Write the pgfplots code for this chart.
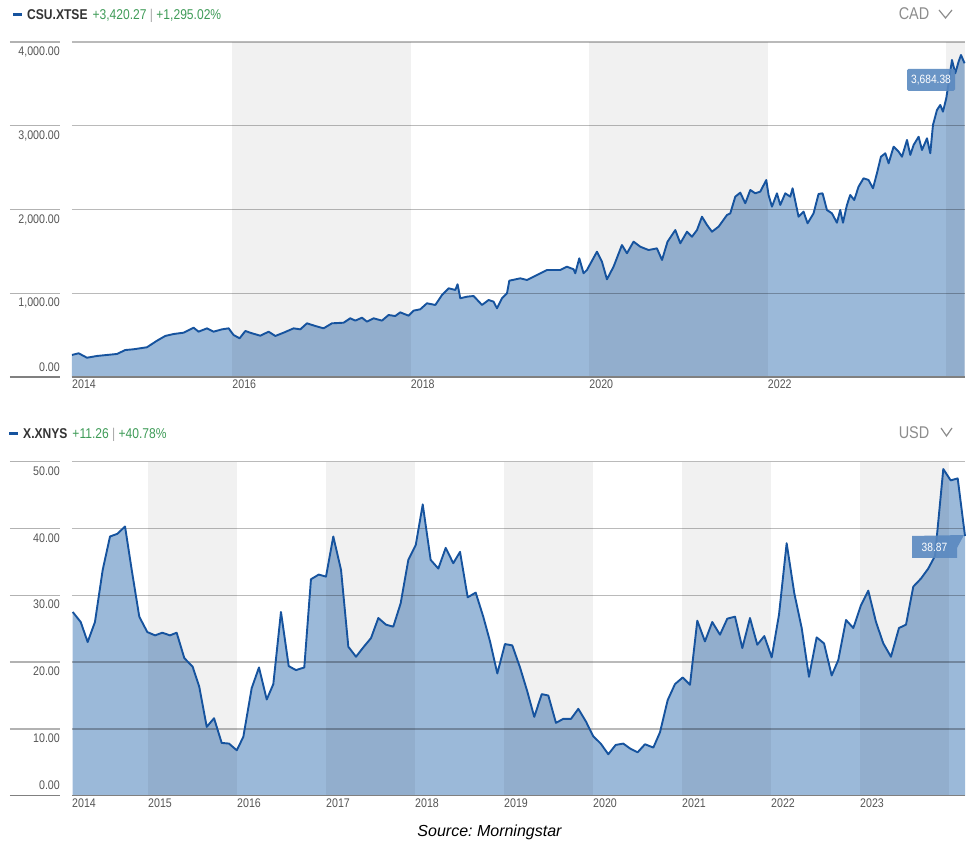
\documentclass[border=0pt]{standalone}
\usepackage{fontspec}
\setmainfont{Liberation Sans}
\newfontfamily\cond{Liberation Sans}[FakeStretch=0.85]
\usepackage{pgfplots}
\pgfplotsset{compat=1.18}
\usepackage{pgfplotstable}

\definecolor{linec}{HTML}{16539E}
\definecolor{fillc}{HTML}{9BB9D9}
\definecolor{labc}{HTML}{555555}
\definecolor{grn}{HTML}{3E9B57}
\definecolor{tagc}{HTML}{5A89C0}
\definecolor{hdr}{HTML}{333333}

% CSU.XTSE, CAD
\pgfplotstableread{
t v
2014.204 263
2014.278 283
2014.372 230
2014.484 251
2014.596 263
2014.708 275
2014.801 322
2014.894 331
2015.044 355
2015.156 433
2015.249 490
2015.342 513
2015.454 529
2015.566 589
2015.622 541
2015.717 581
2015.790 541
2015.885 569
2015.959 581
2016.015 501
2016.082 462
2016.146 549
2016.221 522
2016.314 493
2016.407 541
2016.482 490
2016.575 529
2016.687 581
2016.762 569
2016.837 641
2016.930 609
2017.023 581
2017.117 641
2017.247 648
2017.322 701
2017.378 673
2017.453 708
2017.509 661
2017.583 701
2017.677 673
2017.751 740
2017.826 728
2017.882 772
2017.975 732
2018.031 792
2018.106 808
2018.181 880
2018.275 860
2018.350 979
2018.424 1059
2018.499 1039
2018.524 1107
2018.555 940
2018.630 959
2018.704 967
2018.798 860
2018.872 919
2018.928 899
2018.966 820
2019.022 940
2019.078 999
2019.104 1150
2019.227 1178
2019.302 1158
2019.376 1198
2019.451 1238
2019.526 1278
2019.638 1278
2019.675 1278
2019.750 1317
2019.824 1286
2019.843 1238
2019.888 1417
2019.936 1238
2019.974 1278
2020.086 1496
2020.142 1377
2020.198 1166
2020.272 1317
2020.366 1576
2020.422 1477
2020.496 1616
2020.571 1556
2020.664 1516
2020.758 1536
2020.815 1397
2020.877 1616
2020.964 1755
2021.020 1596
2021.095 1735
2021.151 1675
2021.207 1755
2021.263 1914
2021.319 1815
2021.375 1735
2021.449 1795
2021.543 1934
2021.580 1954
2021.636 2153
2021.692 2201
2021.748 2074
2021.804 2233
2021.860 2193
2021.916 2213
2021.983 2352
2022.009 2173
2022.047 2034
2022.103 2193
2022.140 2054
2022.196 2193
2022.252 2153
2022.278 2253
2022.345 1914
2022.401 1974
2022.446 1835
2022.513 1954
2022.569 2185
2022.614 2193
2022.663 1994
2022.719 1954
2022.775 1842
2022.812 1994
2022.843 1842
2022.887 2054
2022.924 2173
2022.969 2113
2023.017 2272
2023.073 2372
2023.129 2352
2023.179 2253
2023.223 2432
2023.268 2630
2023.317 2671
2023.354 2551
2023.410 2750
2023.466 2690
2023.504 2630
2023.560 2830
2023.597 2651
2023.634 2770
2023.690 2869
2023.728 2710
2023.784 2850
2023.821 2671
2023.851 3009
2023.896 3188
2023.933 3248
2023.963 3168
2024.000 3328
2024.026 3507
2024.064 3785
2024.101 3626
2024.138 3765
2024.165 3845
2024.205 3746
}\topdata

% X.XNYS, USD
\pgfplotstableread{
t v
2014.154 27.5
2014.244 26.0
2014.322 23.0
2014.404 26.0
2014.491 33.8
2014.573 38.8
2014.655 39.2
2014.742 40.3
2014.817 33.8
2014.902 26.8
2014.992 24.5
2015.079 24.0
2015.161 24.4
2015.247 24.0
2015.322 24.4
2015.408 20.6
2015.502 19.3
2015.576 16.3
2015.660 10.3
2015.742 11.6
2015.828 7.9
2015.910 7.8
2015.997 6.8
2016.071 8.8
2016.165 16.1
2016.247 19.2
2016.334 14.4
2016.408 16.7
2016.494 27.5
2016.581 19.4
2016.663 18.8
2016.756 19.2
2016.831 32.4
2016.918 33.1
2017.000 32.8
2017.082 38.8
2017.169 33.8
2017.251 22.3
2017.337 20.8
2017.419 22.2
2017.506 23.6
2017.588 26.6
2017.674 25.6
2017.756 25.3
2017.839 28.8
2017.925 35.3
2018.008 37.5
2018.087 43.6
2018.176 35.3
2018.262 34.0
2018.345 37.1
2018.430 34.8
2018.506 36.5
2018.592 29.7
2018.682 30.4
2018.767 26.8
2018.843 23.1
2018.925 18.3
2019.011 22.7
2019.093 22.5
2019.180 19.2
2019.262 15.6
2019.340 11.8
2019.424 15.2
2019.498 15.0
2019.584 10.9
2019.666 11.5
2019.753 11.5
2019.835 13.0
2019.921 11.1
2020.003 8.9
2020.087 7.8
2020.172 6.2
2020.255 7.6
2020.340 7.8
2020.424 7.0
2020.502 6.5
2020.584 7.7
2020.678 7.2
2020.753 9.5
2020.839 14.3
2020.921 16.7
2021.008 17.7
2021.090 16.6
2021.172 26.2
2021.258 23.1
2021.340 26.0
2021.427 24.1
2021.509 26.5
2021.596 26.8
2021.678 22.1
2021.764 26.6
2021.846 22.6
2021.925 23.9
2022.008 20.7
2022.090 27.1
2022.176 37.8
2022.262 30.3
2022.345 25.1
2022.427 17.8
2022.513 23.7
2022.596 22.8
2022.682 18.0
2022.756 20.3
2022.843 26.3
2022.925 25.1
2023.011 28.5
2023.093 30.7
2023.180 26.0
2023.262 22.8
2023.348 20.8
2023.438 25.1
2023.517 25.6
2023.599 31.3
2023.685 32.5
2023.767 34.0
2023.843 35.9
2023.936 48.9
2024.019 47.2
2024.098 47.5
2024.180 38.87
}\botdata

\pgfplotsset{
  msChart/.style={
    scale only axis, width=893pt, anchor=south west,
    axis line style={draw=none}, tick style={draw=none},
    ymin=0, clip=false,
    yticklabel style={anchor=north east, inner sep=0pt, xshift=-12pt, yshift=-4.7pt,
      font=\cond\fontsize{12.5}{14}\selectfont, text=labc},
    xticklabel style={anchor=north west, inner sep=0pt, yshift=-3pt,
      font=\cond\fontsize{12.5}{14}\selectfont, text=labc},
    extra y tick style={yticklabel style={anchor=south east, yshift=10.2pt}},
  },
}
\tikzset{
  gridl/.style={draw=black, draw opacity=0.27, line width=1.3pt},
  stub/.style={draw=black!30, line width=1.3pt},
  band/.style={fill=black, fill opacity=0.055},
}

\begin{document}
\frenchspacing
\begin{tikzpicture}[x=1pt, y=1pt]
\useasboundingbox (0,0) rectangle (975,850);

% ---------- top panel ----------
\draw[linec, line width=3pt] (13,835) -- (22,835);
\node[anchor=base west, inner sep=0pt, font=\cond\fontsize{14.2}{17}\selectfont] at (27,830)
  {{\bfseries\color{hdr}CSU.XTSE}\hspace{5pt}{\color{grn}+3,420.27 {\color{black!35}|} +1,295.02\%}};
\node[anchor=center, inner sep=0pt, font=\cond\fontsize{17}{20}\selectfont, text=black!45] at (914,836) {CAD};
\draw[black!45, line width=1.2pt] (939,840) -- (945.5,832) -- (952,840);

\begin{axis}[msChart, at={(72pt,473pt)}, height=335pt,
  xmin=2014.204, xmax=2024.21, ymax=4000,
  xtick={2014.204,2016,2018,2020,2022},
  xticklabels={2014,2016,2018,2020,2022},
  ytick={1000,2000,3000,4000},
  yticklabels={{1,000.00},{2,000.00},{3,000.00},{4,000.00}},
  extra y ticks={0}, extra y tick labels={0.00},
]
\addplot[fill=fillc, draw=none] table[x=t, y=v] {\topdata} \closedcycle;
\fill[band] (axis cs:2016,0) rectangle (axis cs:2018,4000);
\fill[band] (axis cs:2020,0) rectangle (axis cs:2022,4000);
\fill[band] (axis cs:2024,0) rectangle (axis cs:2024.21,4000);
\pgfplotsinvokeforeach{1000,2000,3000,4000}{
  \draw[gridl] (axis cs:2014.204,#1) -- (axis cs:2024.21,#1);
  \draw[stub] ([xshift=-62pt]axis cs:2014.204,#1) -- ([xshift=-12pt]axis cs:2014.204,#1);
}
\draw[draw=black!50, line width=1.6pt] (axis cs:2014.204,0) -- (axis cs:2024.21,0);
\draw[draw=black!50, line width=1.6pt] ([xshift=-62pt]axis cs:2014.204,0) -- ([xshift=-12pt]axis cs:2014.204,0);
\addplot[linec, line width=1.9pt, line join=round] table[x=t, y=v] {\topdata};
\end{axis}

% value tag, top
\fill[tagc, fill opacity=0.9, rounded corners=1.5pt] (907,759) rectangle (955,781);
\node[text=white, inner sep=0pt, font=\cond\fontsize{12}{14}\selectfont] at (931,770) {3,684.38};

% ---------- bottom panel ----------
\draw[linec, line width=3pt] (9,416) -- (18,416);
\node[anchor=base west, inner sep=0pt, font=\cond\fontsize{14.2}{17}\selectfont] at (23,411)
  {{\bfseries\color{hdr}X.XNYS}\hspace{5pt}{\color{grn}+11.26 {\color{black!35}|} +40.78\%}};
\node[anchor=center, inner sep=0pt, font=\cond\fontsize{17}{20}\selectfont, text=black!45] at (914,417) {USD};
\draw[black!45, line width=1.2pt] (941,422) -- (946.5,414) -- (952,422);

\begin{axis}[msChart, at={(72pt,54.3pt)}, height=334pt,
  xmin=2014.146, xmax=2024.18, ymax=50,
  xtick={2014.146,2015,2016,2017,2018,2019,2020,2021,2022,2023},
  xticklabels={2014,2015,2016,2017,2018,2019,2020,2021,2022,2023},
  ytick={10,20,30,40,50},
  yticklabels={10.00,20.00,30.00,40.00,50.00},
  extra y ticks={0}, extra y tick labels={0.00},
]
\addplot[fill=fillc, draw=none] table[x=t, y=v] {\botdata} \closedcycle;
\fill[band] (axis cs:2015,0) rectangle (axis cs:2016,50);
\fill[band] (axis cs:2017,0) rectangle (axis cs:2018,50);
\fill[band] (axis cs:2019,0) rectangle (axis cs:2020,50);
\fill[band] (axis cs:2021,0) rectangle (axis cs:2022,50);
\fill[band] (axis cs:2023,0) rectangle (axis cs:2024,50);
\pgfplotsinvokeforeach{10,20,30,40,50}{
  \draw[gridl] (axis cs:2014.146,#1) -- (axis cs:2024.18,#1);
  \draw[stub] ([xshift=-62pt]axis cs:2014.146,#1) -- ([xshift=-12pt]axis cs:2014.146,#1);
}
\draw[draw=black!50, line width=1.6pt] (axis cs:2014.146,0) -- (axis cs:2024.18,0);
\draw[draw=black!50, line width=1.6pt] ([xshift=-62pt]axis cs:2014.146,0) -- ([xshift=-12pt]axis cs:2014.146,0);
\addplot[linec, line width=1.9pt, line join=round] table[x=t, y=v] {\botdata};
\end{axis}

% value tag, bottom
\fill[tagc, fill opacity=0.9] (912,314) -- (964,315) -- (957,302) -- (957,292) -- (912,292) -- cycle;
\node[text=white, inner sep=0pt, font=\cond\fontsize{12}{14}\selectfont] at (934.5,303) {38.87};

% source
\node[inner sep=0pt, font=\fontsize{16}{18}\selectfont\itshape] at (489.5,18) {Source: Morningstar};
\end{tikzpicture}
\end{document}
